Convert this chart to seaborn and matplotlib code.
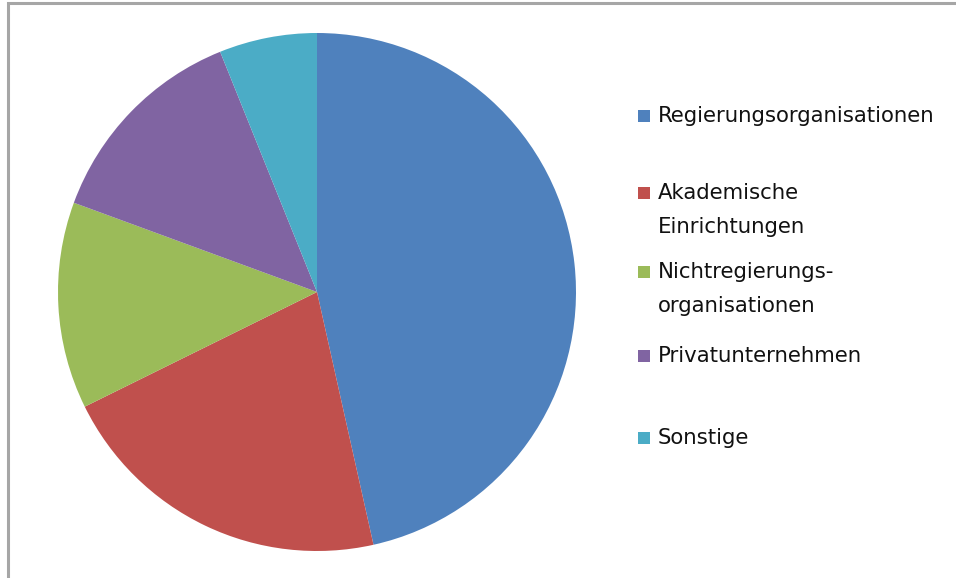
import matplotlib
matplotlib.use("Agg")
import matplotlib.pyplot as plt
import seaborn as sns
from matplotlib.patches import Rectangle

# %% data (shares in percent)
categories = ["Regierungsorganisationen", "Akademische\nEinrichtungen",
              "Nichtregierungs-\norganisationen", "Privatunternehmen", "Sonstige"]
shares = [46.5, 21.2, 12.9, 13.3, 6.1]
colors = ["#4F81BD", "#C0504D", "#9BBB59", "#8064A2", "#4BACC6"]

# %%
sns.set_theme(style="white")
plt.rcParams["font.family"] = ["DejaVu Sans"]

W, H = 956, 578
fig = plt.figure(figsize=(W / 100, H / 100), dpi=100)

# pie axes: centre (317, 292) px, radius 259 px
cx, cy, r = 317, 292, 259
ax = fig.add_axes([(cx - r) / W, (H - cy - r) / H, 2 * r / W, 2 * r / H])
ax.pie(shares, colors=sns.color_palette(colors), startangle=90, counterclock=False,
       radius=1, wedgeprops=dict(linewidth=0))
ax.set_xlim(-1, 1)
ax.set_ylim(-1, 1)
ax.set_aspect("equal")
ax.axis("off")

# chart frame (only top and left edge visible in the crop)
fig.patches.append(Rectangle((8 / W, -0.1), 1.2, (H - 3) / H + 0.1, transform=fig.transFigure,
                             fill=False, edgecolor="#A6A6A6", linewidth=2.2))

# legend, placed like the Excel one (first-line y in px)
legend_y = [116, 193, 272, 356, 438]
for label, col, y in zip(categories, colors, legend_y):
    fig.patches.append(Rectangle((638 / W, (H - y - 6) / H), 12 / W, 12 / H,
                                 transform=fig.transFigure, facecolor=col, edgecolor="none"))
    for i, line in enumerate(label.split("\n")):
        fig.text(658 / W, (H - y - 34 * i) / H, line, fontsize=15.3, color="#111111",
                 va="center", ha="left")

fig.savefig("out.png", dpi=100)
